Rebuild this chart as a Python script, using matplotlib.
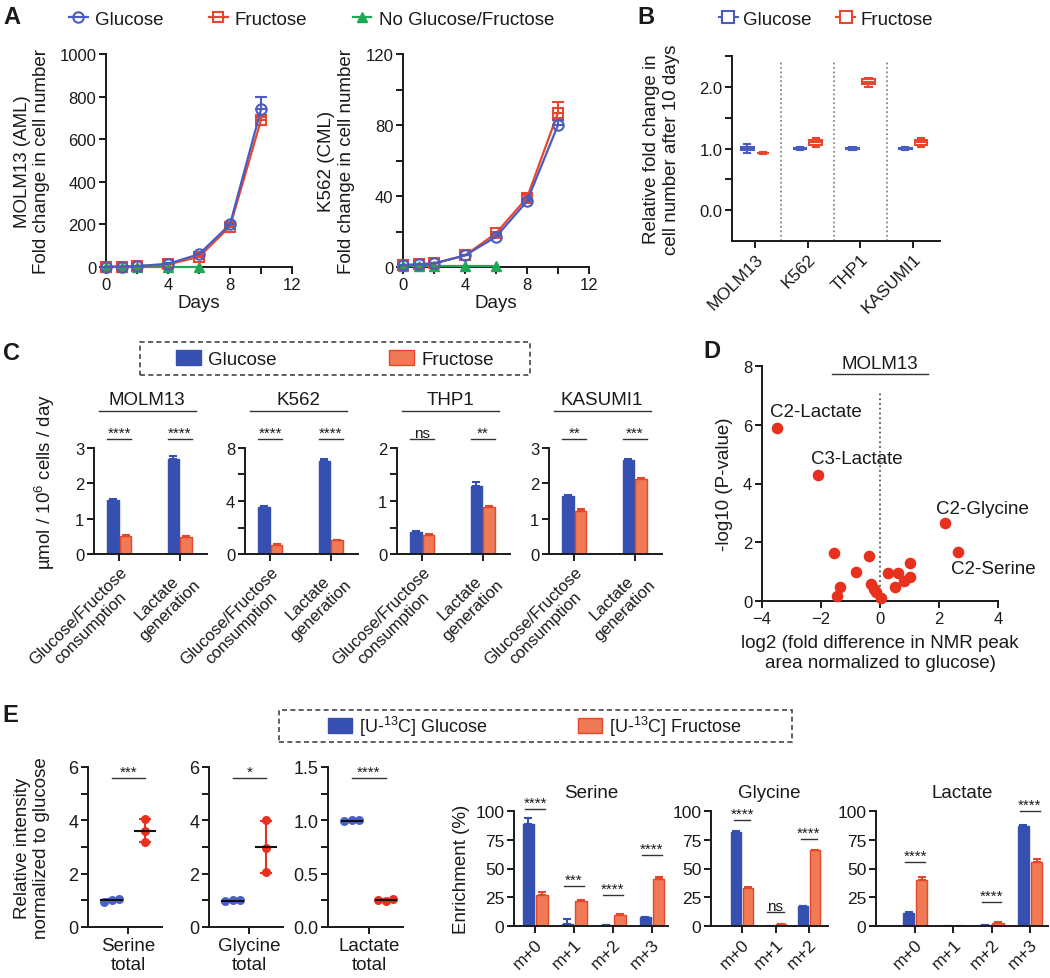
import numpy as np
import matplotlib
matplotlib.use("Agg")
import matplotlib.pyplot as plt
import matplotlib.transforms as mtransforms
from matplotlib.lines import Line2D
from matplotlib.patches import Patch, Rectangle

plt.rcParams['font.family'] = ['Liberation Sans', 'DejaVu Sans']
plt.rcParams['mathtext.default'] = 'regular'
for k in ['text.color', 'axes.edgecolor', 'xtick.color', 'ytick.color', 'axes.labelcolor']:
    plt.rcParams[k] = '#1a1a1a'

BLUE = '#4a5cc0'
RED = '#e8462e'
GREEN = '#1fa855'
BAR_BLUE = '#3550b0'
BAR_RED = '#f07a55'
BAR_RED_EDGE = '#e4472a'
DOT_RED = '#e8301f'
DOT_BLUE = '#4a62c8'

# ---- A: growth curves ----
days = [0, 1, 2, 4, 6, 8, 10]
days_none = [0, 1, 2, 4, 6]
molm13_glc = [1, 2, 4, 15, 60, 200, 740]
molm13_glc_err = [0, 0, 0, 2, 6, 10, 60]
molm13_fru = [1, 2, 4, 12, 48, 190, 690]
molm13_fru_err = [0, 0, 0, 2, 5, 8, 15]
molm13_none = [1, 1, 1, 1, 1]
k562_glc = [1, 1.5, 2, 6.5, 17, 37, 80]
k562_glc_err = [0, 0, 0, 0.5, 1, 1.5, 3]
k562_fru = [1, 1.5, 2, 6.5, 19, 39, 87]
k562_fru_err = [0, 0, 0, 0.5, 1, 1.5, 6]
k562_none = [0.5, 0.5, 0.5, 0.5, 0.5]

# ---- B: relative fold change after 10 days ----
b_lines = ['MOLM13', 'K562', 'THP1', 'KASUMI1']
b_glc = [[0.92, 0.97, 1.0, 1.03, 1.08], [0.97, 0.99, 1.0, 1.01, 1.03],
         [0.97, 0.99, 1.0, 1.01, 1.03], [0.97, 0.99, 1.0, 1.01, 1.03]]
b_fru = [[0.91, 0.92, 0.925, 0.93, 0.94], [1.02, 1.06, 1.1, 1.14, 1.17],
         [2.0, 2.04, 2.08, 2.12, 2.15], [1.02, 1.06, 1.1, 1.14, 1.17]]

# ---- C: consumption / lactate ----
c_lines = ['MOLM13', 'K562', 'THP1', 'KASUMI1']
c_groups = ['Glucose/Fructose\nconsumption', 'Lactate\ngeneration']
c_glc = [[1.52, 2.70], [3.58, 7.0], [0.42, 1.28], [1.63, 2.66]]
c_glc_err = [[0.03, 0.06], [0.05, 0.2], [0.02, 0.08], [0.04, 0.03]]
c_fru = [[0.52, 0.48], [0.68, 1.05], [0.36, 0.89], [1.22, 2.12]]
c_fru_err = [[0.03, 0.02], [0.04, 0.03], [0.01, 0.02], [0.04, 0.03]]
c_yticks = [[0, 1, 2, 3], [0, 4, 8], [0, 1, 2], [0, 1, 2, 3]]
c_sig = [['****', '****'], ['****', '****'], ['ns', '**'], ['**', '***']]

# ---- D: volcano ----
d_x = [-3.5, -2.1, 2.2, 2.65, -1.57, -0.38, -0.81, -1.36, -1.47, -0.3, -0.2,
       -0.12, 0.02, 0.26, 0.6, 0.51, 1.03, 1.03, 0.82]
d_y = [5.9, 4.3, 2.65, 1.68, 1.62, 1.54, 1.0, 0.46, 0.18, 0.58, 0.42,
       0.3, 0.1, 0.97, 0.95, 0.46, 1.28, 0.83, 0.69]
d_names = ['C2-Lactate', 'C3-Lactate', 'C2-Glycine', 'C2-Serine']

# ---- E: 13C tracing ----
e_metab = ['Serine\ntotal', 'Glycine\ntotal', 'Lactate\ntotal']
e_glc_pts = [[0.93, 1.03, 1.04], [0.98, 1.0, 1.0], [0.99, 1.0, 1.0]]
e_fru_pts = [[4.05, 3.6, 3.2], [4.0, 2.95, 2.05], [0.25, 0.24, 0.26]]
e_yticks = [[0, 2, 4, 6], [0, 2, 4, 6], [0, 0.5, 1.0, 1.5]]
e_sig = ['***', '*', '****']

iso_names = ['Serine', 'Glycine', 'Lactate']
iso_labels = [['m+0', 'm+1', 'm+2', 'm+3'], ['m+0', 'm+1', 'm+2'], ['m+0', 'm+1', 'm+2', 'm+3']]
iso_glc = [[89, 2, 1, 7.5], [82, 0, 17], [11.5, 0, 1, 87]]
iso_glc_err = [[5, 4, 0.3, 0.5], [0.5, 0, 0.5], [0.5, 0, 0.3, 0.5]]
iso_fru = [[27, 22, 10, 41], [33, 1.5, 66], [40, 0, 3, 56]]
iso_fru_err = [[3, 1, 0.5, 2], [1, 0.3, 0.5], [2.5, 0, 0.5, 2]]
iso_sig = [['****', '***', '****', '****'], ['****', 'ns', '****'], ['****', '', '****', '****']]
iso_sig_y = [[102, 35, 27, 62], [92, 12, 76], [56, 0, 21, 100]]

W, H = 1050, 979
fig = plt.figure(figsize=(W / 100, H / 100), dpi=100)
fig.patch.set_facecolor('white')


def axes_px(x0, y0, x1, y1):
    return fig.add_axes([x0 / W, 1 - y1 / H, (x1 - x0) / W, (y1 - y0) / H])


def prism(ax):
    for s in ['top', 'right']:
        ax.spines[s].set_visible(False)
    for s in ['left', 'bottom']:
        ax.spines[s].set_linewidth(1.4)
    ax.tick_params(which='both', width=1.4, length=5, labelsize=12, pad=2)


def sig(ax, x0, x1, y, txt, trans, size=11):
    ax.plot([x0, x1], [y, y], color='#333', lw=1, clip_on=False, transform=trans)
    ax.annotate(txt, ((x0 + x1) / 2, y), xycoords=trans, xytext=(0, 1.5),
                textcoords='offset points', ha='center', va='baseline', fontsize=size,
                annotation_clip=False)


def frame_px(x0, y0, x1, y1):
    fig.add_artist(Rectangle((x0 / W, 1 - y1 / H), (x1 - x0) / W, (y1 - y0) / H,
                             transform=fig.transFigure, fill=False, ls=(0, (3, 2)),
                             lw=1.2, ec='#444'))


# ---------------- Panel A ----------------
def growth(ax, glc, glc_err, fru, fru_err, none):
    ax.plot(days_none, none, color=GREEN, marker='^', ms=7, lw=1.6, clip_on=False, zorder=3)
    for vals, err, col, mk in [(fru, fru_err, RED, 's'), (glc, glc_err, BLUE, 'o')]:
        eb = ax.errorbar(days, vals, yerr=[np.zeros(len(err)), err], color=col, marker=mk,
                         mfc='none', ms=7.5, mew=1.5, lw=1.6, capsize=4, capthick=1.5,
                         elinewidth=1.5, zorder=4)
        for art in eb.get_children():
            art.set_clip_on(False)
    ax.set_xlim(0, 12)
    ax.set_xticks([0, 4, 8, 12])
    ax.set_xticks([2, 6, 10], minor=True)
    ax.set_xlabel('Days', fontsize=13.5, labelpad=2)


axA1 = axes_px(106, 55, 292, 268)
prism(axA1)
growth(axA1, molm13_glc, molm13_glc_err, molm13_fru, molm13_fru_err, molm13_none)
axA1.set_ylim(0, 1000)
axA1.set_yticks([0, 200, 400, 600, 800, 1000])
axA1.set_ylabel('MOLM13 (AML)\nFold change in cell number', fontsize=13.5)
axA1.yaxis.set_label_coords(-0.30, 0.5)

axA2 = axes_px(403, 55, 589, 268)
prism(axA2)
growth(axA2, k562_glc, k562_glc_err, k562_fru, k562_fru_err, k562_none)
axA2.set_ylim(0, 120)
axA2.set_yticks([0, 40, 80, 120])
axA2.set_yticks([20, 60, 100], minor=True)
axA2.set_ylabel('K562 (CML)\nFold change in cell number', fontsize=13.5)
axA2.yaxis.set_label_coords(-0.26, 0.5)

hA = [Line2D([], [], color=BLUE, marker='o', mfc='none', ms=7.5, mew=1.5, lw=1.6),
      Line2D([], [], color=RED, marker='s', mfc='none', ms=7.5, mew=1.5, lw=1.6),
      Line2D([], [], color=GREEN, marker='^', ms=7, lw=1.6)]
fig.legend(hA, ['Glucose', 'Fructose', 'No Glucose/Fructose'], loc='center left',
           bbox_to_anchor=(69 / W, 1 - 20 / H), ncol=3, frameon=False, fontsize=13.5,
           handlelength=1.0, handletextpad=0.4, columnspacing=2.4, borderpad=0,
           borderaxespad=0)

# ---------------- Panel B ----------------
axB = axes_px(732, 57, 940, 242)
prism(axB)
pos = np.arange(len(b_lines))
for data, col, off in [(b_glc, BLUE, -0.15), (b_fru, RED, 0.15)]:
    axB.boxplot(data, positions=pos + off, widths=0.24, whis=(0, 100), patch_artist=True,
                showfliers=False, manage_ticks=False,
                boxprops=dict(facecolor='white', edgecolor=col, lw=1.5),
                medianprops=dict(color=col, lw=1.5),
                whiskerprops=dict(color=col, lw=1.5), capprops=dict(color=col, lw=1.5))
for xs in pos[:-1] + 0.5:
    axB.axvline(xs, ymin=0, ymax=0.97, ls=':', color='#777', lw=1.2)
axB.set_xlim(-0.44, 3.51)
axB.set_ylim(-0.5, 2.5)
axB.set_yticks([0, 1, 2])
axB.set_yticklabels(['0.0', '1.0', '2.0'])
axB.set_yticks([0.5, 1.5, 2.5], minor=True)
axB.set_xticks(pos)
axB.set_xticklabels(b_lines, rotation=45, ha='right', va='top', rotation_mode='anchor',
                    fontsize=12.5)
axB.set_ylabel('Relative fold change in\ncell number after 10 days', fontsize=13.5)
axB.yaxis.set_label_coords(-0.25, 0.5)
hB = [Line2D([], [], color=BLUE, marker='s', mfc='white', ms=8, mew=1.5, lw=1.5),
      Line2D([], [], color=RED, marker='s', mfc='white', ms=8, mew=1.5, lw=1.5)]
fig.legend(hB, ['Glucose', 'Fructose'], loc='center left', bbox_to_anchor=(719 / W, 1 - 20 / H),
           ncol=2, frameon=False, fontsize=13.5, handlelength=1.0, handletextpad=0.3,
           columnspacing=1.3, borderpad=0, borderaxespad=0)

# ---------------- Panel C ----------------
c_lefts = [94, 245, 397, 549]
for i, name in enumerate(c_lines):
    ax = axes_px(c_lefts[i], 449, c_lefts[i] + 113, 555)
    prism(ax)
    g = np.arange(len(c_groups))
    ax.bar(g - 0.105, c_glc[i], 0.19, yerr=[np.zeros(2), c_glc_err[i]], color=BAR_BLUE,
           edgecolor=BAR_BLUE, lw=1,
           error_kw=dict(ecolor=BAR_BLUE, capsize=3, elinewidth=1.5, capthick=1.5))
    ax.bar(g + 0.105, c_fru[i], 0.19, yerr=[np.zeros(2), c_fru_err[i]], color=BAR_RED,
           edgecolor=BAR_RED_EDGE, lw=1,
           error_kw=dict(ecolor=BAR_RED_EDGE, capsize=3, elinewidth=1.5, capthick=1.5))
    ax.set_xlim(-0.42, 1.45)
    ax.set_ylim(0, c_yticks[i][-1])
    ax.set_yticks(c_yticks[i])
    if len(c_yticks[i]) == 3:
        t = np.array(c_yticks[i])
        ax.set_yticks((t[:-1] + t[1:]) / 2, minor=True)
    ax.set_xticks(g)
    ax.set_xticklabels(c_groups, rotation=45, ha='right', va='top', rotation_mode='anchor',
                       multialignment='center', fontsize=12)
    ax.text(0.47, 1.46, name, transform=ax.transAxes, ha='center', va='center', fontsize=13.5)
    ax.plot([0.04, 0.9], [1.35, 1.35], transform=ax.transAxes, color='#333', lw=1,
            clip_on=False)
    tr = mtransforms.blended_transform_factory(ax.transData, ax.transAxes)
    for j in range(len(c_groups)):
        sig(ax, g[j] - 0.2, g[j] + 0.2, 1.085, c_sig[i][j], tr)
fig.text(45 / W, 1 - 482 / H, 'µmol / 10$^{6}$ cells / day', rotation=90, ha='center',
         va='center', fontsize=13.5)
hC = [Patch(facecolor=BAR_BLUE, edgecolor=BAR_BLUE), Patch(facecolor=BAR_RED, edgecolor=BAR_RED_EDGE)]
fig.legend(hC, ['Glucose', 'Fructose'], loc='center', bbox_to_anchor=(335 / W, 1 - 360 / H),
           ncol=2, frameon=False, fontsize=13.5, handlelength=1.3, handleheight=0.9,
           handletextpad=0.4, columnspacing=6.0, borderpad=0, borderaxespad=0)
frame_px(140, 343, 530, 376)

# ---------------- Panel D ----------------
axD = axes_px(762, 367, 998, 602)
prism(axD)
axD.scatter(d_x, d_y, s=70, color=DOT_RED, zorder=3, clip_on=False, lw=0)
axD.axvline(0, ymin=0, ymax=7.1 / 8, ls=':', color='#555', lw=1.3)
axD.set_xlim(-4, 4)
axD.set_ylim(0, 8)
axD.set_xticks([-4, -2, 0, 2, 4])
axD.set_yticks([0, 2, 4, 6, 8])
axD.text(0, 8.1, 'MOLM13', ha='center', va='center', fontsize=13.5)
axD.plot([-1.62, 1.62], [7.72, 7.72], color='#333', lw=1, clip_on=False)
# label offsets from their points (data units)
d_offsets = [(1.33, 0.56), (1.32, 0.56), (1.26, 0.51), (1.2, -0.56)]
for k, nm in enumerate(d_names):
    dx, dy = d_offsets[k]
    axD.text(d_x[k] + dx, d_y[k] + dy, nm, ha='center', va='center', fontsize=13.5)
axD.set_ylabel('-log10 (P-value)', fontsize=13.5)
axD.yaxis.set_label_coords(-0.123, 0.5)
axD.set_xlabel('log2 (fold difference in NMR peak\narea normalized to glucose)',
               fontsize=13.5, labelpad=6)

# ---------------- Panel E (left) ----------------
e_left_px = [(88, 162), (209, 283), (328, 403)]
for i, lab in enumerate(e_metab):
    ax = axes_px(e_left_px[i][0], 768, e_left_px[i][1], 928)
    prism(ax)
    ymax = e_yticks[i][-1]
    for pts, col, xc in [(e_glc_pts[i], DOT_BLUE, -0.5), (e_fru_pts[i], DOT_RED, 0.5)]:
        pts = np.array(pts)
        if np.ptp(pts) < 0.05 * ymax:
            xs = xc + np.linspace(-0.22, 0.22, len(pts))
        else:
            xs = np.full(len(pts), xc)
        m, sd = pts.mean(), pts.std(ddof=1)
        ax.errorbar(xc, m, yerr=sd, color=col, capsize=4, elinewidth=1.5, capthick=1.5, zorder=2)
        ax.scatter(xs, pts, s=42, color=col, zorder=3, lw=0)
        ax.plot([xc - 0.3, xc + 0.3], [m, m], color='#111', lw=1.5, zorder=4)
    ax.set_xlim(-1.2, 1.0)
    ax.set_ylim(0, ymax)
    t = np.array(e_yticks[i])
    ax.set_yticks(t)
    ax.set_yticks((t[:-1] + t[1:]) / 2, minor=True)
    if ymax < 2:
        ax.set_yticklabels(['%.1f' % v for v in t])
    ax.tick_params(labelsize=13)
    ax.set_xticks([0])
    ax.set_xticklabels([lab], fontsize=13.5)
    tr = mtransforms.blended_transform_factory(ax.transData, ax.transAxes)
    sig(ax, -0.5, 0.5, 0.93, e_sig[i], tr)
    if i == 0:
        ax.set_ylabel('Relative intensity\nnormalized to glucose', fontsize=13.5)
        ax.yaxis.set_label_coords(-0.51, 0.5)

hE = [Patch(facecolor=BAR_BLUE, edgecolor=BAR_BLUE), Patch(facecolor=BAR_RED, edgecolor=BAR_RED_EDGE)]
fig.legend(hE, ['[U-$^{13}$C] Glucose', '[U-$^{13}$C] Fructose'], loc='center',
           bbox_to_anchor=(535 / W, 1 - 727 / H), ncol=2, frameon=False, fontsize=13,
           handlelength=1.3, handleheight=0.9, handletextpad=0.4, columnspacing=5.0,
           borderpad=0, borderaxespad=0)
frame_px(279, 711, 792, 743)

# ---------------- Panel E (right) ----------------
e_right_px = [(514, 668), (711, 828), (876, 1048)]
e_right_xlim = [(-0.54, 3.41), (-0.93, 2.57), (-1.02, 3.47)]
for i, name in enumerate(iso_names):
    ax = axes_px(e_right_px[i][0], 812, e_right_px[i][1], 927)
    prism(ax)
    g = np.arange(len(iso_labels[i]))
    n = len(g)
    ax.bar(g - 0.17, iso_glc[i], 0.3, yerr=[np.zeros(n), iso_glc_err[i]], color=BAR_BLUE,
           edgecolor=BAR_BLUE, lw=1,
           error_kw=dict(ecolor=BAR_BLUE, capsize=3, elinewidth=1.5, capthick=1.5))
    ax.bar(g + 0.17, iso_fru[i], 0.3, yerr=[np.zeros(n), iso_fru_err[i]], color=BAR_RED,
           edgecolor=BAR_RED_EDGE, lw=1,
           error_kw=dict(ecolor=BAR_RED_EDGE, capsize=3, elinewidth=1.5, capthick=1.5))
    ax.set_xlim(*e_right_xlim[i])
    ax.set_ylim(0, 100)
    ax.set_yticks([0, 25, 50, 75, 100])
    ax.tick_params(labelsize=12.5)
    ax.set_xticks(g)
    ax.set_xticklabels(iso_labels[i], rotation=45, ha='right', va='top',
                       rotation_mode='anchor', fontsize=12.5)
    ax.set_title(name, fontsize=13.5, pad=10)
    for j, s in enumerate(iso_sig[i]):
        if s:
            sig(ax, g[j] - 0.25, g[j] + 0.25, iso_sig_y[i][j], s, ax.transData)
    if i == 0:
        ax.set_ylabel('Enrichment (%)', fontsize=13.5, labelpad=4)

# panel letters
for lt, x, y in [('A', 3, 18), ('B', 637, 17), ('C', 3, 353), ('D', 703, 352), ('E', 2, 715)]:
    fig.text(x / W, 1 - y / H, lt, fontsize=17, fontweight='bold', ha='left', va='center')

fig.savefig('out.png', dpi=100, facecolor='white')
